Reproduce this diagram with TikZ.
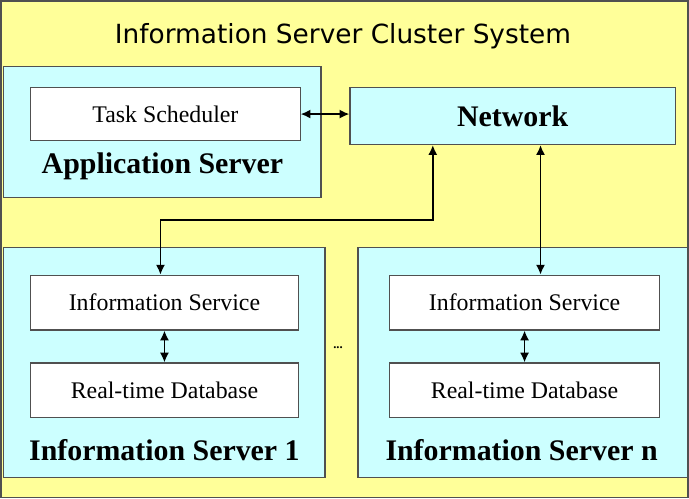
\documentclass[tikz,border=0pt]{standalone}
\usepackage{fontspec}
\usetikzlibrary{arrows.meta}
\setmainfont{Liberation Serif}
\newfontfamily\titlefont{DejaVu Sans}
\definecolor{bgyellow}{RGB}{255,255,153}
\definecolor{srvcyan}{RGB}{204,255,255}
\definecolor{edgegray}{RGB}{80,80,80}

\begin{document}
\begin{tikzpicture}[>={Latex[length=7pt, width=6.5pt]},
    server/.style={draw=edgegray, fill=srvcyan, line width=0.9pt},
    module/.style={draw=edgegray, fill=white, line width=0.8pt, font=\fontsize{17}{20}\selectfont},
    srvlabel/.style={font=\fontsize{21.3}{24}\selectfont\bfseries},
    link/.style={<->, line width=1.2pt}]
        % Frame
        \fill[bgyellow] (0, 0) rectangle (17.225, 12.45);
        \draw[edgegray, line width=1.2pt] (0, 0) rectangle (17.225, 12.45);
        \useasboundingbox (0, 0) rectangle (17.225, 12.45);
        \node[font=\titlefont\fontsize{18.8}{22}\selectfont] (title) at (8.575, 11.575) {Information Server Cluster System};

        % Application server
        \begin{scope}
            \node[server, minimum width=7.95cm, minimum height=3.275cm] (app) at (4.05, 9.1625) {};
            \node[module, minimum width=6.75cm, minimum height=1.325cm] (sched) at (4.125, 9.6125) {Task Scheduler};
            \node[srvlabel] (applabel) at (4.05, 8.3) {Application Server};
        \end{scope}

        % Network
        \node[server, minimum width=8.15cm, minimum height=1.425cm, srvlabel] (net) at (12.825, 9.5625) {Network};

        % Information servers
        \node[server, minimum width=8.05cm, minimum height=5.775cm] (srv1) at (4.1, 3.3875) {};
        \node[module, minimum width=6.7cm, minimum height=1.375cm] (svc1) at (4.1, 4.8875) {Information Service};
        \node[module, minimum width=6.7cm, minimum height=1.375cm] (db1) at (4.1, 2.6875) {Real-time Database};
        \node[srvlabel] (srv1label) at (4.1, 1.2) {Information Server 1};

        \node[font=\small\bfseries] (dots) at (8.45, 3.75) {...};

        \node[server, minimum width=8.25cm, minimum height=5.775cm] (srvn) at (13.075, 3.3875) {};
        \node[module, minimum width=6.75cm, minimum height=1.375cm] (svcn) at (13.125, 4.8875) {Information Service};
        \node[module, minimum width=6.75cm, minimum height=1.375cm] (dbn) at (13.125, 2.6875) {Real-time Database};
        \node[srvlabel] (srvnlabel) at (13.05, 1.2) {Information Server n};

        % Links
        \coordinate (bend) at (10.825, 6.95);
        \draw[link] (sched.east) -- (sched.east -| net.west);
        \draw[link] (net.south -| bend) -- (bend) -| ([xshift=-0.1cm]svc1.north);
        \draw[link] ([xshift=0.4cm]svcn.north) -- ([xshift=0.4cm]svcn.north |- net.south);
        \draw[link] (svc1.south) -- (db1.north);
        \draw[link] (svcn.south) -- (dbn.north);
    \end{tikzpicture}
\end{document}
